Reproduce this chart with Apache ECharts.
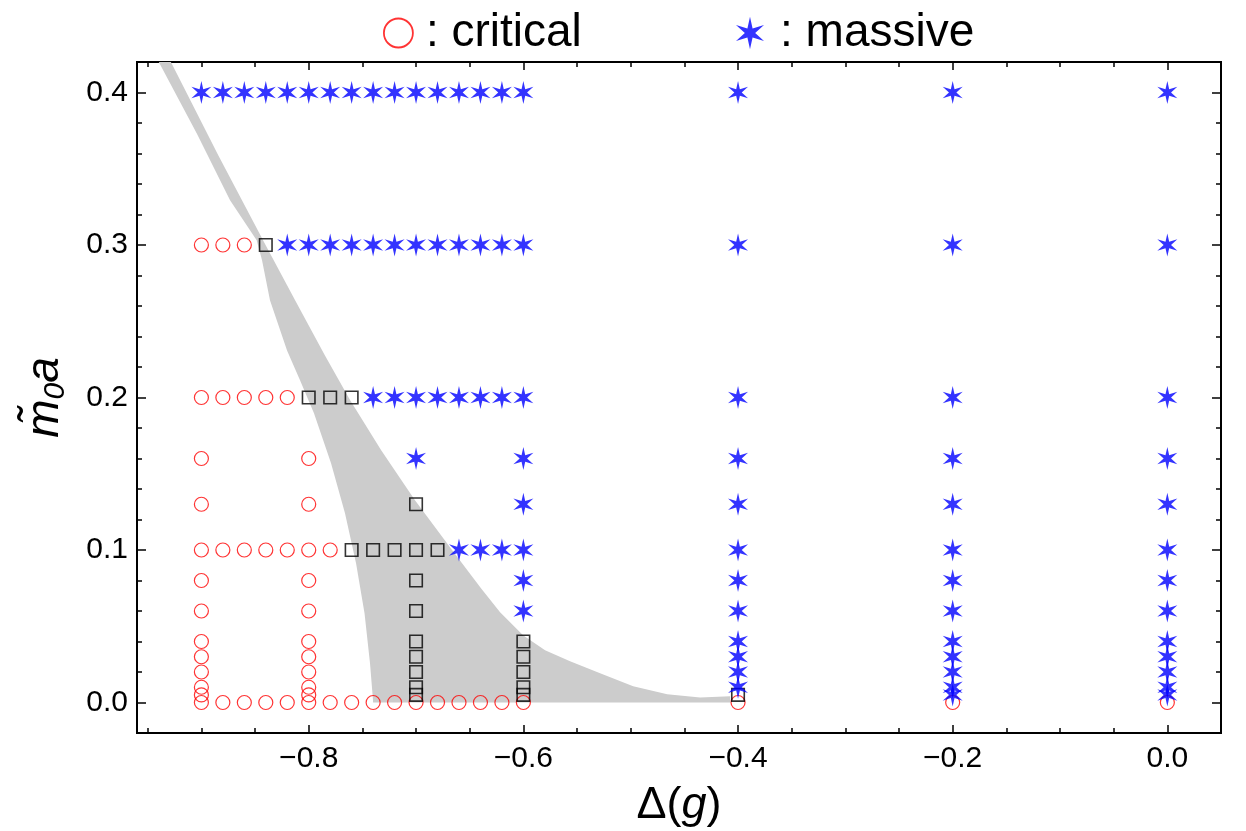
<!DOCTYPE html>
<html>
<head>
<meta charset="utf-8">
<title>phase diagram</title>
<script src="https://cdn.jsdelivr.net/npm/echarts@6.0.0/dist/echarts.min.js"></script>
<style>
  html, body { margin: 0; padding: 0; background: #fff; }
  #chart { width: 1246px; height: 831px; }
</style>
</head>
<body>
<div id="chart"></div>
<script>
// ── Data ─────────────────────────────────────────────────────────────────────

// each row: [ m0a, [Δ(g) values] ]
const criticalRows = [
  [0.3,   [-0.90, -0.88, -0.86]],
  [0.2,   [-0.90, -0.88, -0.86, -0.84, -0.82]],
  [0.16,  [-0.90, -0.80]],
  [0.13,  [-0.90, -0.80]],
  [0.1,   [-0.90, -0.88, -0.86, -0.84, -0.82, -0.80, -0.78]],
  [0.08,  [-0.90, -0.80]],
  [0.06,  [-0.90, -0.80]],
  [0.04,  [-0.90, -0.80]],
  [0.03,  [-0.90, -0.80]],
  [0.02,  [-0.90, -0.80]],
  [0.01,  [-0.90, -0.80]],
  [0.005, [-0.90, -0.80]],
  [0,     [-0.90, -0.88, -0.86, -0.84, -0.82, -0.80, -0.78, -0.76, -0.74, -0.72,
           -0.70, -0.68, -0.66, -0.64, -0.62, -0.60, -0.4, -0.2, 0]],
];

const borderRows = [
  [0.3,   [-0.84]],
  [0.2,   [-0.80, -0.78, -0.76]],
  [0.13,  [-0.70]],
  [0.1,   [-0.76, -0.74, -0.72, -0.70, -0.68]],
  [0.08,  [-0.70]],
  [0.06,  [-0.70]],
  [0.04,  [-0.70, -0.60]],
  [0.03,  [-0.70, -0.60]],
  [0.02,  [-0.70, -0.60]],
  [0.01,  [-0.70, -0.60]],
  [0.005, [-0.70, -0.60, -0.4]],
];

const massiveRows = [
  [0.4,   [-0.90, -0.88, -0.86, -0.84, -0.82, -0.80, -0.78, -0.76, -0.74, -0.72,
           -0.70, -0.68, -0.66, -0.64, -0.62, -0.60, -0.4, -0.2, 0]],
  [0.3,   [-0.82, -0.80, -0.78, -0.76, -0.74, -0.72, -0.70, -0.68, -0.66, -0.64,
           -0.62, -0.60, -0.4, -0.2, 0]],
  [0.2,   [-0.74, -0.72, -0.70, -0.68, -0.66, -0.64, -0.62, -0.60, -0.4, -0.2, 0]],
  [0.16,  [-0.70, -0.60, -0.4, -0.2, 0]],
  [0.13,  [-0.60, -0.4, -0.2, 0]],
  [0.1,   [-0.66, -0.64, -0.62, -0.60, -0.4, -0.2, 0]],
  [0.08,  [-0.60, -0.4, -0.2, 0]],
  [0.06,  [-0.60, -0.4, -0.2, 0]],
  [0.04,  [-0.4, -0.2, 0]],
  [0.03,  [-0.4, -0.2, 0]],
  [0.02,  [-0.4, -0.2, 0]],
  [0.01,  [-0.4, -0.2, 0]],
  [0.005, [-0.2, 0]],
];

// grey band, left and right edges, top to bottom
const bandLeft = [
  [-0.9397, 0.42], [-0.9044, 0.3732], [-0.8733, 0.3293], [-0.8485, 0.3031],
  [-0.8435, 0.2900], [-0.8361, 0.2637], [-0.8202, 0.2309], [-0.8081, 0.2113],
  [-0.7951, 0.1897], [-0.7792, 0.1569], [-0.7662, 0.1241], [-0.7559, 0.0913],
  [-0.7480, 0.0585], [-0.7429, 0.0257], [-0.7401, 0.0014], [-0.7401, 0],
];
const bandRight = [
  [-0.9284, 0.42], [-0.8843, 0.3588], [-0.8401, 0.2998], [-0.8127, 0.2637],
  [-0.7850, 0.2277], [-0.7614, 0.1982], [-0.7325, 0.1654], [-0.7010, 0.1326],
  [-0.6670, 0.1005], [-0.6395, 0.0749], [-0.6217, 0.0592], [-0.6003, 0.0441],
  [-0.5798, 0.0343], [-0.5565, 0.0270], [-0.5285, 0.0192], [-0.4977, 0.0106],
  [-0.4660, 0.0054], [-0.4353, 0.0032], [-0.4073, 0.0041], [-0.4073, 0],
];

const xMajor = [-0.8, -0.6, -0.4, -0.2, 0];
const xMinor = [-0.95, -0.9, -0.85, -0.75, -0.7, -0.65, -0.55, -0.5, -0.45,
                -0.35, -0.3, -0.25, -0.15, -0.1, -0.05];
const yMajor = [0, 0.1, 0.2, 0.3, 0.4];
const yMinor = [0.02, 0.04, 0.06, 0.08, 0.12, 0.14, 0.16, 0.18, 0.22, 0.24,
                0.26, 0.28, 0.32, 0.34, 0.36, 0.38];

// ── Helpers ──────────────────────────────────────────────────────────────────

const FONT = 'Liberation Sans, Arial, sans-serif';
// six-pointed star like the Mathematica one
const STAR = 'path://M50,0L58,36.14L93.3,25L66,50L93.3,75L58,63.86L50,100L42,63.86L6.7,75L34,50L6.7,25L42,36.14Z';

const rowsToPoints = rows => rows.flatMap(([y, xs]) => xs.map(x => [x, y]));
const fmtTick = v => (v < 0 ? '\u2212' : '') + Math.abs(v).toFixed(1);

function frameAxis(kind, position, values, len, opts = {}) {
  const range = kind === 'x' ? { min: -0.96, max: 0.05 } : { min: -0.02, max: 0.42 };
  return Object.assign({
    type: 'value', position, ...range,
    axisLine: { show: true, onZero: false, lineStyle: { color: '#000', width: 2 } },
    axisTick: { show: true, inside: true, length: len, customValues: values,
                lineStyle: { color: '#000', width: 1.5 } },
    axisLabel: { show: false },
    splitLine: { show: false },
  }, opts);
}

// ── Chart ────────────────────────────────────────────────────────────────────

const chart = echarts.init(document.getElementById('chart'), null, { renderer: 'canvas' });

const bandPolygon = bandLeft.concat(bandRight.slice().reverse());

chart.setOption({
  animation: false,
  backgroundColor: '#fff',
  grid: { left: 137, top: 62, right: 25, bottom: 98, containLabel: false, outerBoundsMode: 'none' },
  legend: [
    {
      data: [{ name: 'critical', icon: 'circle',
               itemStyle: { color: 'rgba(0,0,0,0)', borderColor: '#ff0000', borderWidth: 1.8 } }],
      left: 383, top: 10, padding: 0, itemWidth: 29, itemHeight: 29,
      formatter: ': {name}', selectedMode: false,
      textStyle: { fontSize: 46, fontFamily: FONT, color: '#000', padding: [0, 0, 0, 8] },
    },
    {
      data: [{ name: 'massive', icon: STAR, itemStyle: { color: '#0000ff', borderWidth: 0 } }],
      left: 736, top: 10, padding: 0, itemWidth: 28, itemHeight: 33,
      formatter: ': {name}', selectedMode: false,
      textStyle: { fontSize: 46, fontFamily: FONT, color: '#000', padding: [0, 0, 0, 11] },
    },
  ],
  xAxis: [
    frameAxis('x', 'bottom', xMajor, 8, {
      axisLabel: { show: true, customValues: xMajor, formatter: fmtTick, margin: 11,
                   fontSize: 30, fontFamily: FONT, color: '#000' },
      name: '{n|\u0394(}{i|g}{n|)}', nameLocation: 'middle', nameGap: 50,
      nameTextStyle: { rich: {
        n: { fontSize: 45, fontFamily: FONT, color: '#000' },
        i: { fontSize: 45, fontFamily: FONT, fontStyle: 'italic', color: '#000' },
      } },
    }),
    frameAxis('x', 'bottom', xMinor, 5),
    frameAxis('x', 'top', xMajor, 8),
    frameAxis('x', 'top', xMinor, 5),
  ],
  yAxis: [
    frameAxis('y', 'left', yMajor, 9, {
      axisLabel: { show: true, customValues: yMajor, formatter: fmtTick, margin: 9,
                   fontSize: 30, fontFamily: FONT, color: '#000' },
      name: '{m|m\u0303}{s|0}{a|a}', nameLocation: 'middle', nameGap: 66,
      nameTextStyle: { rich: {
        m: { fontSize: 46, fontFamily: FONT, fontStyle: 'italic', color: '#000', lineHeight: 52 },
        s: { fontSize: 30, fontFamily: FONT, fontStyle: 'italic', color: '#000',
             lineHeight: 30, verticalAlign: 'bottom' },
        a: { fontSize: 46, fontFamily: FONT, fontStyle: 'italic', color: '#000', lineHeight: 52 },
      } },
    }),
    frameAxis('y', 'left', yMinor, 5),
    frameAxis('y', 'right', yMajor, 9),
    frameAxis('y', 'right', yMinor, 5),
  ],
  series: [
    {
      type: 'custom',
      name: 'band',
      silent: true,
      data: [[-0.5, 0.1]],
      z: 1,
      renderItem: (params, api) => ({
        type: 'polygon',
        shape: { points: bandPolygon.map(p => api.coord(p)) },
        style: { fill: '#cccccc' },
      }),
    },
    {
      type: 'scatter', name: 'critical', z: 2,
      data: rowsToPoints(criticalRows),
      symbol: 'circle', symbolSize: 14,
      itemStyle: { color: 'rgba(0,0,0,0)', borderColor: '#ff0000', borderWidth: 1.2 },
    },
    {
      type: 'scatter', name: 'boundary', z: 3,
      data: rowsToPoints(borderRows),
      symbol: 'rect', symbolSize: 12.5,
      itemStyle: { color: 'rgba(0,0,0,0)', borderColor: '#000', borderWidth: 1.6 },
    },
    {
      type: 'scatter', name: 'massive', z: 4,
      data: rowsToPoints(massiveRows),
      symbol: STAR, symbolSize: [20, 23],
      itemStyle: { color: '#0000ff' },
    },
  ],
});
</script>
</body>
</html>
